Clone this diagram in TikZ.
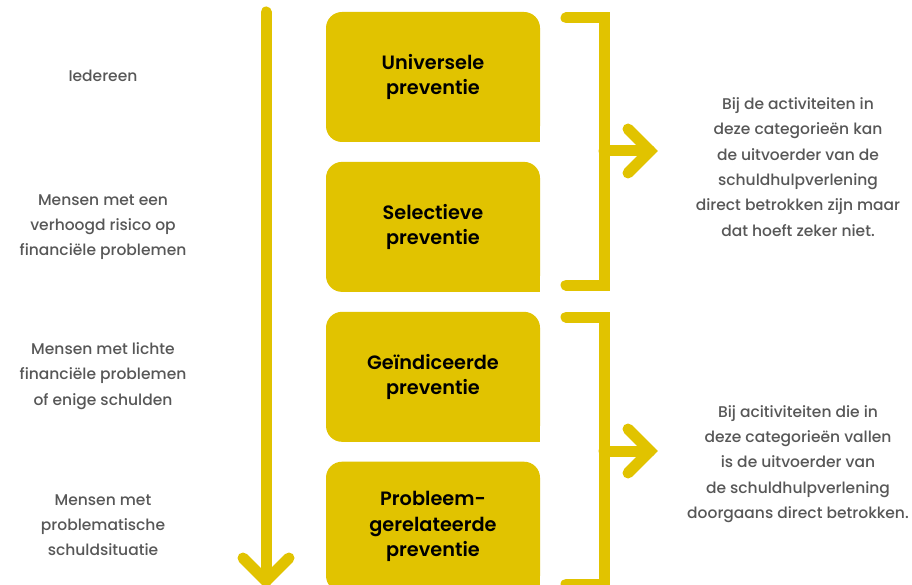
\documentclass[tikz,border=0pt]{standalone}
\usepackage{fontspec}
\setmainfont{Poppins}[UprightFont={* Medium}, BoldFont={* SemiBold}]
\usepackage{tikz}
\usetikzlibrary{positioning}
\definecolor{geel}{HTML}{E1C300}
\definecolor{grijs}{HTML}{575757}

\begin{document}
\begin{tikzpicture}[
  x=1pt, y=-1pt,
  node distance=19.5pt,
  fase/.style={fill=geel, rounded corners=16pt, minimum width=214pt,
               minimum height=130pt, inner sep=0pt, align=center, text=black,
               font=\fontsize{19.3}{25.5}\selectfont\bfseries},
  groep/.style={align=center, text=grijs, font=\fontsize{15.5}{25.3}\selectfont},
  balk/.style={draw=geel, line width=11pt, line cap=round, line join=miter}
]
  \useasboundingbox (0,0) rectangle (912,585);

  \node[fase] (uni) at (433,77) {Universele\\preventie};
  \node[fase, below=of uni] (sel) {Selectieve\\preventie};
  \node[fase, below=of sel] (gei) {Geïndiceerde\\preventie};
  \node[fase, below=of gei] (pro) {Probleem-\\gerelateerde\\preventie};
  \foreach \f in {uni,sel,gei,pro}
    \fill[geel] (\f.south east) rectangle ([xshift=-20pt,yshift=20pt]\f.south east);

  \node[groep] (ied) at (103,76) {Iedereen};
  \node[groep] (ris) at (103,227) {Mensen met een\\verhoogd risico op\\financiële problemen};
  \node[groep] (lic) at (103,376) {Mensen met lichte\\financiële problemen\\of enige schulden};
  \node[groep] (prb) at (103,525) {Mensen met\\problematische\\schuldsituatie};

  \coordinate (top) at (266,12);
  \coordinate (pijl) at (266,581);
  \draw[balk] (top) -- (pijl);
  \draw[balk] ([xshift=-23pt,yshift=23pt]pijl) -- (pijl) -- ([xshift=23pt,yshift=23pt]pijl);

  \node[groep] (mag) at (798,167) {Bij de activiteiten in\\deze categorieën kan\\de uitvoerder van de\\schuldhulpverlening\\direct betrokken zijn maar\\dat hoeft zeker niet.};
  \node[groep] (moet) at (798,464) {Bij acitiviteiten die in\\deze categorieën vallen\\is de uitvoerder van\\de schuldhulpverlening\\doorgaans direct betrokken.};

  \draw[balk] (566,18) -- (604,18) -- (604,285) -- (566,285);
  \coordinate (h1) at (604,151);
  \coordinate (k1) at (650,151);
  \draw[balk] (h1) -- (k1);
  \draw[balk] ([xshift=-22pt,yshift=22pt]k1) -- (k1) -- ([xshift=-22pt,yshift=-22pt]k1);

  \draw[balk] (566,317) -- (604,317) -- (604,584) -- (566,584);
  \coordinate (h2) at (604,451);
  \coordinate (k2) at (650,451);
  \draw[balk] (h2) -- (k2);
  \draw[balk] ([xshift=-22pt,yshift=22pt]k2) -- (k2) -- ([xshift=-22pt,yshift=-22pt]k2);
\end{tikzpicture}
\end{document}
